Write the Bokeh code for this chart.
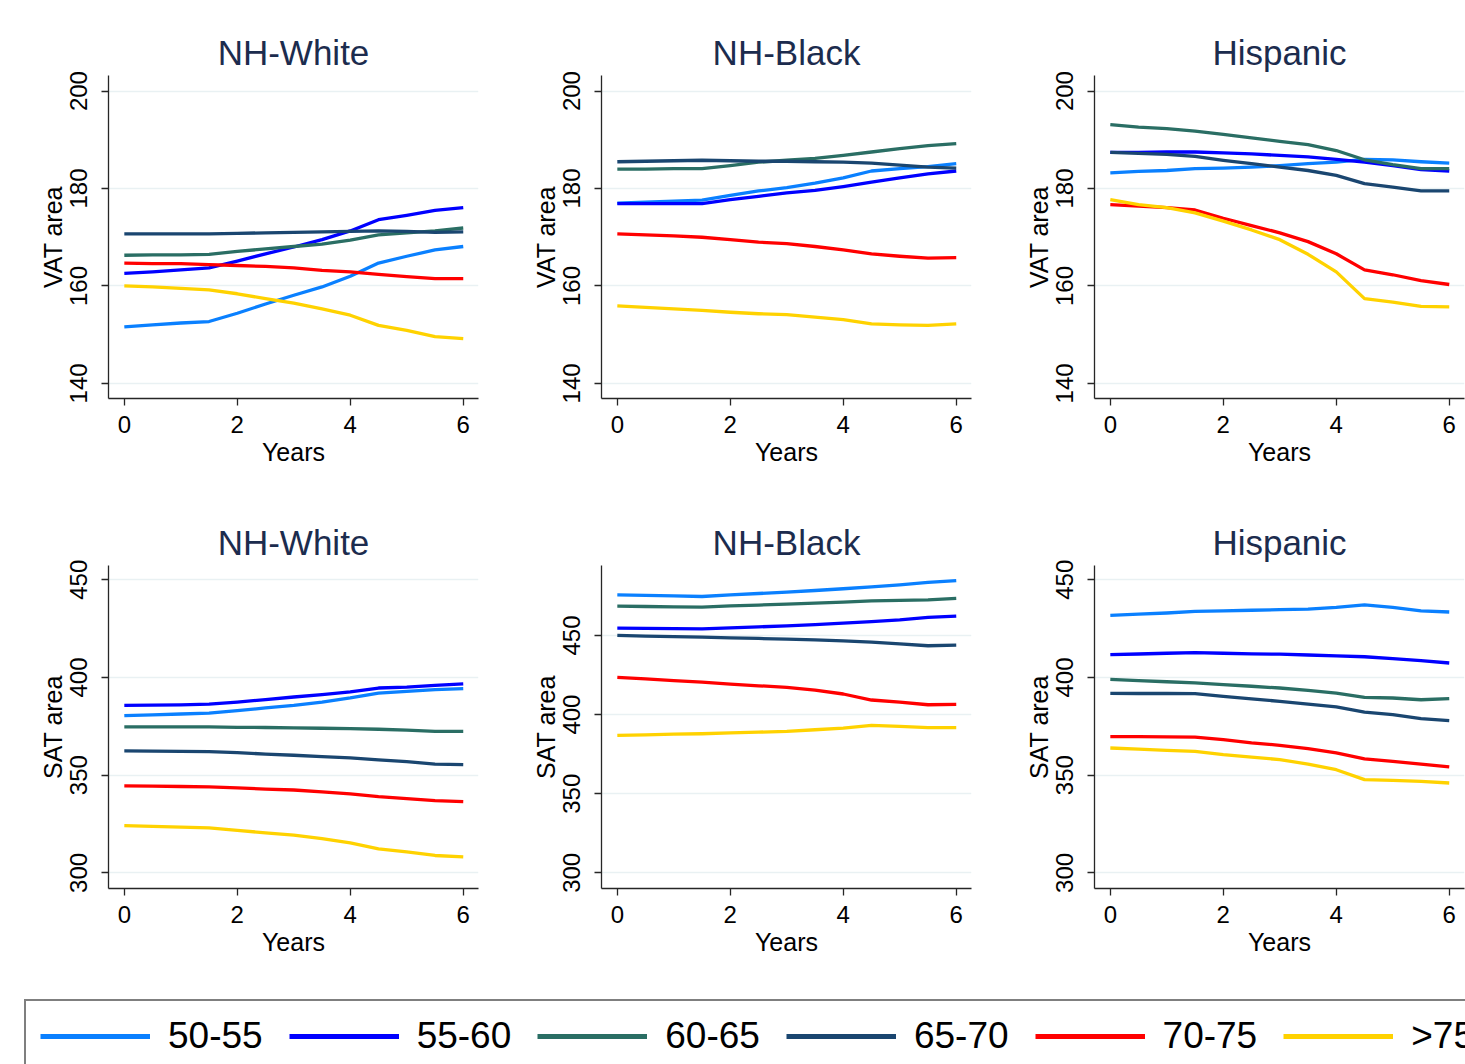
from bokeh.plotting import figure
from bokeh.layouts import column, row
from bokeh.models import Range1d, FixedTicker, Legend, LegendItem, Spacer
from bokeh.embed import file_html
from bokeh.resources import INLINE

FONT = "Liberation Sans"

years = [0, 0.5, 1, 1.5, 2, 2.5, 3, 3.5, 4, 4.5, 5, 5.5, 6]
age_groups = ["50-55", "55-60", "60-65", "65-70", "70-75", ">75"]
group_colors = ["#0a80ff", "#0000ff", "#2a6e64", "#1a4670", "#ff0000", "#ffd200"]

panel_titles = ["NH-White", "NH-Black", "Hispanic"]
vat_ticks = [140, 160, 180, 200]
sat_ticks = [300, 350, 400, 450]

# VAT area, one list per age group (order as age_groups)
vat_nh_white = [
    [151.6, 152.0, 152.4, 152.7, 154.4, 156.3, 158.1, 159.8, 162.0, 164.7, 166.1, 167.4, 168.1],
    [162.6, 162.9, 163.3, 163.7, 165.1, 166.6, 168.0, 169.5, 171.3, 173.6, 174.5, 175.5, 176.1],
    [166.3, 166.4, 166.4, 166.5, 167.1, 167.6, 168.1, 168.6, 169.4, 170.5, 170.9, 171.3, 171.9],
    [170.7, 170.7, 170.7, 170.7, 170.8, 170.9, 171.0, 171.1, 171.2, 171.3, 171.2, 171.0, 171.1],
    [164.7, 164.6, 164.6, 164.4, 164.2, 164.0, 163.7, 163.2, 162.9, 162.4, 161.9, 161.5, 161.5],
    [160.0, 159.8, 159.5, 159.2, 158.4, 157.4, 156.5, 155.3, 154.0, 151.9, 150.9, 149.6, 149.2],
]
vat_nh_black = [
    [177.0, 177.2, 177.4, 177.6, 178.6, 179.5, 180.2, 181.1, 182.2, 183.6, 184.1, 184.5, 185.1],
    [176.9, 176.9, 176.9, 176.9, 177.7, 178.4, 179.1, 179.6, 180.4, 181.3, 182.2, 183.0, 183.6],
    [184.0, 184.0, 184.1, 184.1, 184.7, 185.4, 185.8, 186.2, 186.8, 187.5, 188.2, 188.8, 189.2],
    [185.5, 185.6, 185.7, 185.8, 185.7, 185.6, 185.6, 185.5, 185.4, 185.2, 184.8, 184.4, 184.2],
    [170.7, 170.5, 170.3, 170.0, 169.5, 169.0, 168.7, 168.1, 167.4, 166.6, 166.1, 165.7, 165.8],
    [155.9, 155.6, 155.3, 155.0, 154.6, 154.3, 154.1, 153.6, 153.1, 152.2, 152.0, 151.9, 152.2],
]
vat_hispanic = [
    [183.2, 183.5, 183.7, 184.1, 184.2, 184.4, 184.7, 185.1, 185.4, 186.0, 185.9, 185.5, 185.2],
    [187.4, 187.4, 187.5, 187.5, 187.3, 187.1, 186.8, 186.5, 186.0, 185.4, 184.7, 183.9, 183.6],
    [193.1, 192.6, 192.3, 191.8, 191.1, 190.4, 189.7, 189.0, 187.8, 185.9, 184.9, 184.1, 184.1],
    [187.4, 187.2, 187.0, 186.6, 185.8, 185.1, 184.4, 183.7, 182.7, 181.0, 180.3, 179.5, 179.5],
    [176.7, 176.4, 176.1, 175.6, 173.9, 172.4, 170.9, 169.1, 166.6, 163.3, 162.3, 161.1, 160.3],
    [177.7, 176.7, 176.1, 175.0, 173.3, 171.5, 169.5, 166.5, 162.9, 157.4, 156.7, 155.8, 155.7],
]
# SAT area
sat_nh_white = [
    [380.5, 380.9, 381.3, 381.7, 383.0, 384.4, 385.7, 387.4, 389.5, 392.0, 392.9, 393.8, 394.3],
    [385.7, 385.8, 386.0, 386.4, 387.4, 388.7, 390.0, 391.2, 392.6, 394.6, 395.1, 396.0, 396.7],
    [374.7, 374.7, 374.7, 374.7, 374.5, 374.4, 374.2, 374.0, 373.8, 373.5, 373.0, 372.4, 372.4],
    [362.4, 362.3, 362.2, 362.0, 361.5, 360.8, 360.2, 359.5, 358.8, 357.8, 356.9, 355.7, 355.4],
    [344.5, 344.4, 344.2, 344.0, 343.5, 342.9, 342.4, 341.5, 340.4, 339.0, 338.0, 337.0, 336.5],
    [324.2, 323.8, 323.4, 323.0, 321.7, 320.5, 319.3, 317.5, 315.3, 312.3, 310.7, 308.9, 308.2],
]
sat_nh_black = [
    [475.7, 475.3, 475.0, 474.6, 475.7, 476.5, 477.4, 478.4, 479.5, 480.7, 482.0, 483.5, 484.7],
    [454.6, 454.5, 454.3, 454.2, 454.8, 455.4, 456.1, 456.9, 457.8, 458.8, 459.9, 461.4, 462.2],
    [468.5, 468.3, 468.1, 467.9, 468.7, 469.2, 469.8, 470.4, 471.0, 471.9, 472.1, 472.5, 473.4],
    [450.0, 449.6, 449.3, 448.9, 448.5, 448.1, 447.7, 447.2, 446.6, 445.8, 444.7, 443.5, 443.9],
    [423.5, 422.5, 421.5, 420.5, 419.3, 418.2, 417.2, 415.5, 413.0, 409.2, 407.9, 406.2, 406.4],
    [386.9, 387.2, 387.6, 387.9, 388.4, 388.9, 389.4, 390.4, 391.5, 393.2, 392.6, 391.7, 391.7],
]
sat_hispanic = [
    [431.8, 432.4, 433.0, 433.8, 434.1, 434.4, 434.7, 435.0, 435.9, 437.2, 435.9, 434.1, 433.5],
    [411.7, 412.0, 412.4, 412.7, 412.4, 412.1, 411.9, 411.5, 411.1, 410.6, 409.6, 408.6, 407.4],
    [399.0, 398.4, 397.8, 397.2, 396.3, 395.5, 394.6, 393.4, 392.0, 389.8, 389.5, 388.6, 389.2],
    [391.9, 391.8, 391.8, 391.7, 390.3, 389.0, 387.8, 386.4, 384.9, 382.3, 381.0, 378.9, 377.9],
    [369.7, 369.7, 369.6, 369.5, 368.2, 366.5, 365.3, 363.6, 361.4, 358.3, 357.1, 355.7, 354.2],
    [363.9, 363.3, 362.7, 362.2, 360.5, 359.2, 358.0, 355.7, 352.8, 347.7, 347.3, 346.8, 346.0],
]

AXIS_COLOR = "#262626"
GRID_COLOR = "#e9f1f3"
TITLE_COLOR = "#1c2c4e"
PANEL_H = 490


def make_panel(title, ylabel, series, yr, yticks, width, border_right):
    p = figure(width=width, height=PANEL_H, x_range=Range1d(-0.28, 6.27), y_range=Range1d(*yr),
               output_backend="svg", toolbar_location=None,
               min_border_left=100, min_border_right=border_right,
               min_border_top=67, min_border_bottom=100,
               background_fill_color="white", border_fill_color="white")
    p.outline_line_color = None
    p.title.text = title
    p.title.align = "center"
    p.title.text_font = FONT
    p.title.text_font_size = "35px"
    p.title.text_font_style = "normal"
    p.title.text_color = TITLE_COLOR
    p.title.standoff = 8

    for ax in (p.xaxis[0], p.yaxis[0]):
        ax.axis_line_color = AXIS_COLOR
        ax.axis_line_width = 1.3
        ax.major_tick_line_color = AXIS_COLOR
        ax.major_tick_line_width = 1.3
        ax.major_tick_in = 0
        ax.major_tick_out = 7
        ax.minor_tick_line_color = None
        ax.major_label_text_font = FONT
        ax.major_label_text_font_size = "24px"
        ax.major_label_text_color = "black"
        ax.axis_label_text_font = FONT
        ax.axis_label_text_font_size = "25px"
        ax.axis_label_text_font_style = "normal"
        ax.axis_label_text_color = "black"

    p.xaxis.ticker = FixedTicker(ticks=[0, 2, 4, 6])
    p.xaxis.axis_label = "Years"
    p.xaxis.major_label_standoff = 10
    p.xaxis.axis_label_standoff = 2

    p.yaxis.ticker = FixedTicker(ticks=yticks)
    p.yaxis.axis_label = ylabel
    p.yaxis.major_label_orientation = "vertical"
    p.yaxis.major_label_standoff = 14
    p.yaxis.axis_label_standoff = 1

    p.xgrid.visible = False
    p.ygrid.grid_line_color = GRID_COLOR
    p.ygrid.grid_line_width = 1.5

    for vals, col in zip(series, group_colors):
        p.line(years, vals, line_color=col, line_width=3.3, line_join="round")
    return p


widths = [493, 493, 471]
borders = [23, 23, 1]
vat_sets = [vat_nh_white, vat_nh_black, vat_hispanic]
sat_sets = [sat_nh_white, sat_nh_black, sat_hispanic]
sat_ranges = [(292, 457.3), (290.1, 494.2), (292, 457.3)]

top = [make_panel(t, "VAT area", s, (136.9, 203.2), vat_ticks, w, b)
       for t, s, w, b in zip(panel_titles, vat_sets, widths, borders)]
bottom = [make_panel(t, "SAT area", s, r, sat_ticks, w, b)
          for t, s, r, w, b in zip(panel_titles, sat_sets, sat_ranges, widths, borders)]

# legend strip (its sample renderers lie outside the strip's visible range)
lg = figure(width=1457, height=76, x_range=Range1d(0, 1), y_range=Range1d(0, 1),
            output_backend="svg", toolbar_location=None,
            x_axis_location=None, y_axis_location=None,
            min_border=0, min_border_left=0, min_border_right=0,
            min_border_top=0, min_border_bottom=0,
            background_fill_color="white", border_fill_color="white")
lg.outline_line_color = None
lg.xgrid.visible = False
lg.ygrid.visible = False
items = []
for name, col, vals in zip(age_groups, group_colors, vat_nh_white):
    r = lg.line(x=years, y=vals, line_color=col, line_width=5)
    items.append(LegendItem(label=name, renderers=[r]))
legend = Legend(items=items, orientation="horizontal", location=(16, -9),
                margin=0, padding=14, spacing=26,
                glyph_width=110, glyph_height=30, label_standoff=18,
                label_text_font=FONT, label_text_font_size="37px",
                label_text_color="black",
                border_line_color="black", border_line_width=2,
                background_fill_color="white", background_fill_alpha=1.0)
lg.add_layout(legend, "center")

layout = column(
    Spacer(width=1465, height=8),
    row(Spacer(width=8, height=PANEL_H), *top),
    row(Spacer(width=8, height=PANEL_H), *bottom),
    row(Spacer(width=8, height=76), lg),
)
open("out.html", "w").write(file_html(layout, INLINE))
